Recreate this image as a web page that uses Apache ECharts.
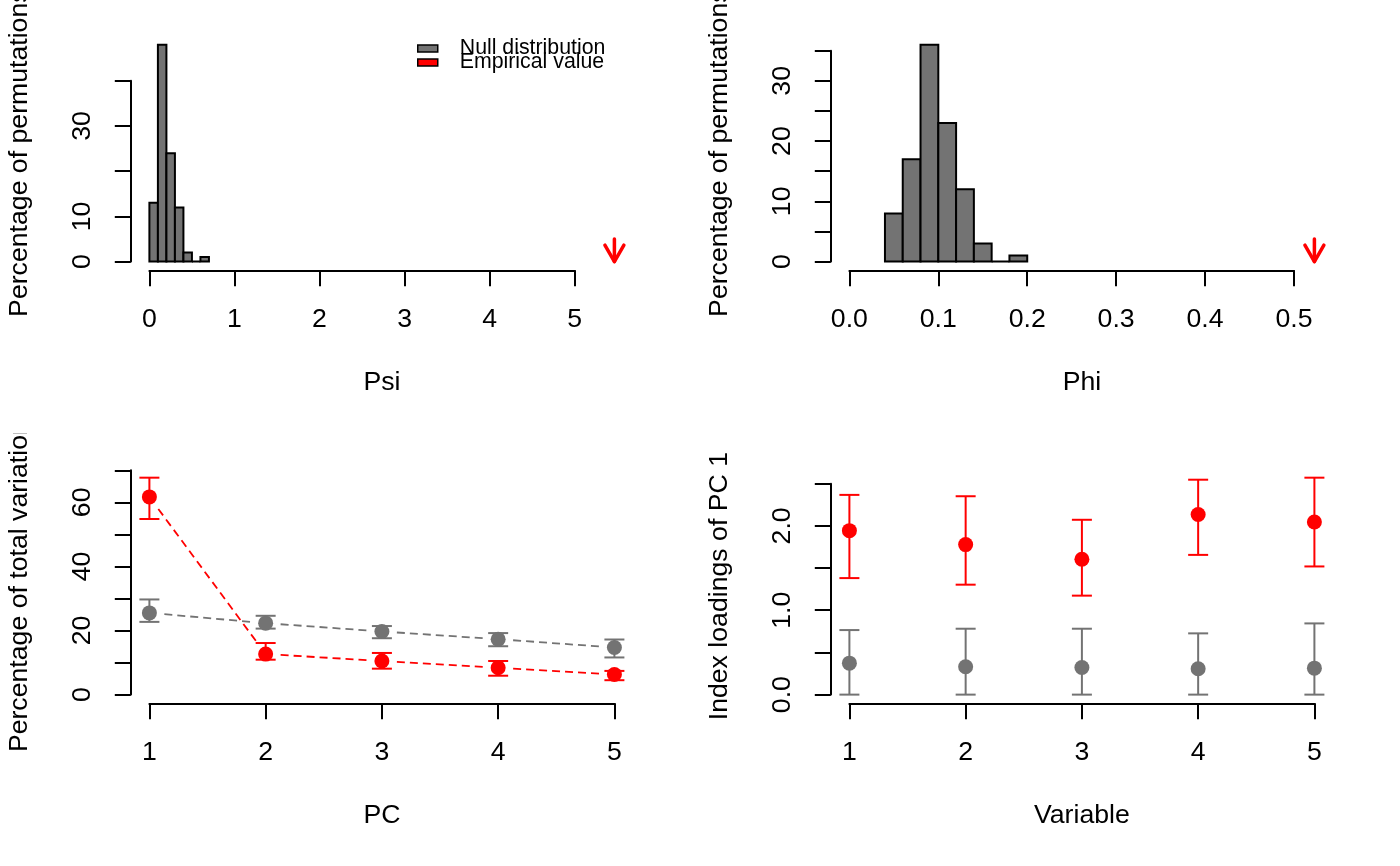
<!DOCTYPE html>
<html><head><meta charset="utf-8">
<script src="https://cdn.jsdelivr.net/npm/echarts@6/dist/echarts.min.js"></script>
<style>
html,body{margin:0;padding:0;background:#fff;width:1400px;height:866px;overflow:hidden}
.panel{position:absolute;width:700px;height:433px;overflow:hidden}
</style></head><body>
<div id="p1" class="panel" style="left:0;top:0"></div>
<div id="p2" class="panel" style="left:700px;top:0"></div>
<div id="p3" class="panel" style="left:0;top:433px"></div>
<div id="p4" class="panel" style="left:700px;top:433px"></div>
<script>
// ---------------- data ----------------
const psiBinEdges = [0, 0.1, 0.2, 0.3, 0.4, 0.5, 0.6, 0.7];
const psiCounts = [13, 48, 24, 12, 2, 0, 1];
const psiEmpirical = 5.467;
const psiArrowFrom = 5.0;
const psiXTicks = [0, 1, 2, 3, 4, 5];
const psiXLabels = ['0', '1', '2', '3', '4', '5'];
const psiYTicks = [0, 10, 20, 30, 40];
const psiYLabels = ['0', '10', '', '30', ''];

const phiBinEdges = [0.04, 0.06, 0.08, 0.10, 0.12, 0.14, 0.16, 0.18, 0.20];
const phiCounts = [8, 17, 36, 23, 12, 3, 0, 1];
const phiEmpirical = 0.523;
const phiArrowFrom = 3.75;
const phiXTicks = [0, 0.1, 0.2, 0.3, 0.4, 0.5];
const phiXLabels = ['0.0', '0.1', '0.2', '0.3', '0.4', '0.5'];
const phiYTicks = [0, 5, 10, 15, 20, 25, 30, 35];
const phiYLabels = ['0', '', '10', '', '20', '', '30', ''];

const pcX = [1, 2, 3, 4, 5];
const pcEmp = [61.7, 12.65, 10.5, 8.4, 6.3];
const pcEmpLo = [54.8, 10.9, 8.1, 5.9, 4.5];
const pcEmpHi = [67.7, 16.1, 13.0, 10.5, 7.4];
const pcNull = [25.5, 22.3, 19.7, 17.3, 14.7];
const pcNullLo = [22.7, 20.6, 17.6, 15.1, 11.6];
const pcNullHi = [29.7, 24.6, 21.4, 19.2, 17.2];
const pcXTicks = [1, 2, 3, 4, 5];
const pcXLabels = ['1', '2', '3', '4', '5'];
const pcYTicks = [0, 10, 20, 30, 40, 50, 60, 70];
const pcYLabels = ['0', '', '20', '', '40', '', '60', ''];

const varX = [1, 2, 3, 4, 5];
const varEmp = [1.943, 1.778, 1.605, 2.135, 2.045];
const varEmpLo = [1.381, 1.303, 1.173, 1.656, 1.519];
const varEmpHi = [2.367, 2.351, 2.072, 2.547, 2.571];
const varNull = [0.373, 0.330, 0.322, 0.306, 0.314];
const varNullLo = [0, 0, 0, 0, 0];
const varNullHi = [0.765, 0.781, 0.781, 0.726, 0.844];
const varXTicks = [1, 2, 3, 4, 5];
const varXLabels = ['1', '2', '3', '4', '5'];
const varYTicks = [0, 0.5, 1.0, 1.5, 2.0, 2.5];
const varYLabels = ['0.0', '', '1.0', '', '2.0', ''];

// ---------------- style / layout ----------------
const FONT = '"Liberation Sans", Arial, Helvetica, sans-serif';
const GRAY = '#737373', RED = '#ff0000';
const PR = {left: 130.8, right: 633, top: 36, bottom: 270.3}; // plot region inside each 700x433 panel

function usr(lim) { const d = lim[1] - lim[0]; return [lim[0] - 0.04 * d, lim[1] + 0.04 * d]; }

function layout(xlim, ylim, xt, yt) {
  const ux = usr(xlim), uy = usr(ylim);
  const px = v => PR.left + (v - ux[0]) / (ux[1] - ux[0]) * (PR.right - PR.left);
  const py = v => PR.bottom - (v - uy[0]) / (uy[1] - uy[0]) * (PR.bottom - PR.top);
  const x0 = px(xt[0]), x1 = px(xt[xt.length - 1]);
  const y0 = py(yt[0]), y1 = py(yt[yt.length - 1]);
  return {ux, uy, gb: {left: x0, top: y1, width: x1 - x0, height: y0 - y1},
          xOff: PR.bottom - y0, yOff: x0 - PR.left};
}

function labelFmt(ticks, labels) {
  return v => {
    let bi = 0, bd = Infinity;
    ticks.forEach((t, i) => { const d = Math.abs(t - v); if (d < bd) { bd = d; bi = i; } });
    return bd < 1e-6 * (1 + Math.abs(v)) ? labels[bi] : '';
  };
}

const axisText = {color: '#000', fontFamily: FONT, fontSize: 26.67, lineHeight: 27};

function buildOption(cfg) {
  const L = layout(cfg.xlim, cfg.ylim, cfg.xTicks, cfg.yTicks);
  const xt = cfg.xTicks, yt = cfg.yTicks;
  const hidden = {axisLine: {show: false}, axisTick: {show: false}, axisLabel: {show: false}, splitLine: {show: false}};
  const lineStyle = {color: '#000', width: 2};
  return {
    animation: false,
    backgroundColor: '#fff',
    grid: [
      {left: PR.left, top: PR.top, width: PR.right - PR.left, height: PR.bottom - PR.top, containLabel: false, outerBoundsMode: 'none'},
      {left: L.gb.left, top: L.gb.top, width: L.gb.width, height: L.gb.height, containLabel: false, outerBoundsMode: 'none'}
    ],
    xAxis: [
      Object.assign({gridIndex: 0, type: 'value', min: L.ux[0], max: L.ux[1], name: cfg.xName, nameLocation: 'middle',
        nameGap: 98.7, nameMoveOverlap: false, nameTextStyle: Object.assign({}, axisText)}, hidden),
      {gridIndex: 1, type: 'value', position: 'bottom', min: xt[0], max: xt[xt.length - 1], interval: xt[1] - xt[0],
        offset: L.xOff, axisLine: {show: true, onZero: false, lineStyle}, axisTick: {show: true, length: 16, lineStyle},
        axisLabel: Object.assign({margin: 36, formatter: labelFmt(xt, cfg.xLabels)}, axisText), splitLine: {show: false}}
    ],
    yAxis: [
      Object.assign({gridIndex: 0, type: 'value', min: L.uy[0], max: L.uy[1], name: cfg.yName, nameLocation: 'middle',
        nameGap: 97.5, nameMoveOverlap: false, nameTextStyle: Object.assign({}, axisText)}, hidden),
      {gridIndex: 1, type: 'value', position: 'left', min: yt[0], max: yt[yt.length - 1], interval: yt[1] - yt[0],
        offset: L.yOff, axisLine: {show: true, onZero: false, lineStyle}, axisTick: {show: true, length: 16, lineStyle},
        axisLabel: Object.assign({margin: 35, rotate: 90, formatter: labelFmt(yt, cfg.yLabels)}, axisText), splitLine: {show: false}}
    ],
    series: cfg.series
  };
}

// ---------------- series builders ----------------
function histSeries(name, edges, counts) {
  return {type: 'custom', name, xAxisIndex: 0, yAxisIndex: 0, itemStyle: {color: GRAY},
    data: counts.map((c, i) => [edges[i], edges[i + 1], c]), encode: {x: [0, 1], y: 2},
    renderItem: (p, api) => {
      const a = api.coord([api.value(0), api.value(2)]);
      const b = api.coord([api.value(1), 0]);
      return {type: 'rect', shape: {x: a[0], y: a[1], width: b[0] - a[0], height: b[1] - a[1]},
        style: {fill: GRAY, stroke: '#000', lineWidth: 2}};
    }};
}

function arrowSeries(name, x, yFrom) {
  return {type: 'custom', name, xAxisIndex: 0, yAxisIndex: 0, itemStyle: {color: RED},
    data: [[x, yFrom, 0]], encode: {x: 0, y: [1, 2]},
    renderItem: (p, api) => {
      const a = api.coord([api.value(0), api.value(1)]);
      const b = api.coord([api.value(0), api.value(2)]);
      const len = 19, ang = Math.PI / 6, dx = len * Math.sin(ang), dy = len * Math.cos(ang);
      const st = {stroke: RED, fill: null, lineWidth: 3.5, lineCap: 'round', lineJoin: 'round'};
      return {type: 'group', children: [
        {type: 'line', shape: {x1: a[0], y1: a[1], x2: b[0], y2: b[1]}, style: st},
        {type: 'polyline', shape: {points: [[b[0] - dx, b[1] - dy], [b[0], b[1]], [b[0] + dx, b[1] - dy]]}, style: st}
      ]};
    }};
}

function errSeries(name, xs, lo, hi, color) {
  return {type: 'custom', name, xAxisIndex: 0, yAxisIndex: 0, itemStyle: {color},
    data: xs.map((x, i) => [x, lo[i], hi[i]]), encode: {x: 0, y: [1, 2]},
    renderItem: (p, api) => {
      const a = api.coord([api.value(0), api.value(1)]);
      const b = api.coord([api.value(0), api.value(2)]);
      const w = 10, st = {stroke: color, lineWidth: 2};
      return {type: 'group', children: [
        {type: 'line', shape: {x1: a[0], y1: a[1], x2: b[0], y2: b[1]}, style: st},
        {type: 'line', shape: {x1: a[0] - w, y1: a[1], x2: a[0] + w, y2: a[1]}, style: st},
        {type: 'line', shape: {x1: b[0] - w, y1: b[1], x2: b[0] + w, y2: b[1]}, style: st}
      ]};
    }};
}

function dashSeries(name, xs, ys, color) {
  const segs = xs.slice(0, -1).map((x, i) => [x, ys[i], xs[i + 1], ys[i + 1]]);
  return {type: 'custom', name, xAxisIndex: 0, yAxisIndex: 0, itemStyle: {color},
    data: segs, encode: {x: [0, 2], y: [1, 3]},
    renderItem: (p, api) => {
      const a = api.coord([api.value(0), api.value(1)]);
      const b = api.coord([api.value(2), api.value(3)]);
      const dx = b[0] - a[0], dy = b[1] - a[1], len = Math.hypot(dx, dy), g = 15;
      if (len <= 2 * g) return null;
      const ux = dx / len, uy = dy / len;
      return {type: 'line', shape: {x1: a[0] + ux * g, y1: a[1] + uy * g, x2: b[0] - ux * g, y2: b[1] - uy * g},
        style: {stroke: color, lineWidth: 1.8, lineDash: [8, 5]}};
    }};
}

function pointSeries(name, xs, ys, color) {
  return {type: 'scatter', name, xAxisIndex: 0, yAxisIndex: 0, symbol: 'circle', symbolSize: 15,
    itemStyle: {color, opacity: 1}, data: xs.map((x, i) => [x, ys[i]])};
}

// ---------------- panels ----------------
const opt1 = buildOption({
  xlim: [0, Math.max(psiBinEdges[psiBinEdges.length - 1], psiEmpirical)], ylim: [0, Math.max(...psiCounts)],
  xTicks: psiXTicks, xLabels: psiXLabels, yTicks: psiYTicks, yLabels: psiYLabels,
  xName: 'Psi', yName: 'Percentage of permutations',
  series: [histSeries('Null distribution', psiBinEdges, psiCounts), arrowSeries('Empirical value', psiEmpirical, psiArrowFrom)]
});
opt1.legend = {orient: 'vertical', left: 417, top: 38, padding: 0, itemWidth: 20, itemHeight: 7, itemGap: -7,
  selectedMode: false, icon: 'rect',
  textStyle: {fontFamily: FONT, fontSize: 21.3, lineHeight: 14, color: '#000', padding: [0, 0, 0, 17]},
  data: [
    {name: 'Null distribution', icon: 'rect', itemStyle: {color: GRAY, borderColor: '#000', borderWidth: 1.5}},
    {name: 'Empirical value', icon: 'rect', itemStyle: {color: RED, borderColor: '#000', borderWidth: 1.5}}
  ]};

const opt2 = buildOption({
  xlim: [0, Math.max(phiBinEdges[phiBinEdges.length - 1], phiEmpirical)], ylim: [0, Math.max(...phiCounts)],
  xTicks: phiXTicks, xLabels: phiXLabels, yTicks: phiYTicks, yLabels: phiYLabels,
  xName: 'Phi', yName: 'Percentage of permutations',
  series: [histSeries('Null distribution', phiBinEdges, phiCounts), arrowSeries('Empirical value', phiEmpirical, phiArrowFrom)]
});

const opt3 = buildOption({
  xlim: [pcX[0], pcX[pcX.length - 1]], ylim: [0, Math.max(...pcEmpHi, ...pcNullHi)],
  xTicks: pcXTicks, xLabels: pcXLabels, yTicks: pcYTicks, yLabels: pcYLabels,
  xName: 'PC', yName: 'Percentage of total variation',
  series: [
    dashSeries('Null line', pcX, pcNull, GRAY),
    errSeries('Null range', pcX, pcNullLo, pcNullHi, GRAY),
    pointSeries('Null distribution', pcX, pcNull, GRAY),
    dashSeries('Empirical line', pcX, pcEmp, RED),
    errSeries('Empirical range', pcX, pcEmpLo, pcEmpHi, RED),
    pointSeries('Empirical value', pcX, pcEmp, RED)
  ]
});

const opt4 = buildOption({
  xlim: [varX[0], varX[varX.length - 1]], ylim: [Math.min(0, ...varNullLo), Math.max(...varEmpHi, ...varNullHi)],
  xTicks: varXTicks, xLabels: varXLabels, yTicks: varYTicks, yLabels: varYLabels,
  xName: 'Variable', yName: 'Index loadings of PC 1',
  series: [
    errSeries('Null range', varX, varNullLo, varNullHi, GRAY),
    pointSeries('Null distribution', varX, varNull, GRAY),
    errSeries('Empirical range', varX, varEmpLo, varEmpHi, RED),
    pointSeries('Empirical value', varX, varEmp, RED)
  ]
});

[['p1', opt1], ['p2', opt2], ['p3', opt3], ['p4', opt4]].forEach(([id, opt]) => {
  const chart = echarts.init(document.getElementById(id), null, {renderer: 'canvas', width: 700, height: 433});
  chart.setOption(opt);
});
</script>
</body></html>
